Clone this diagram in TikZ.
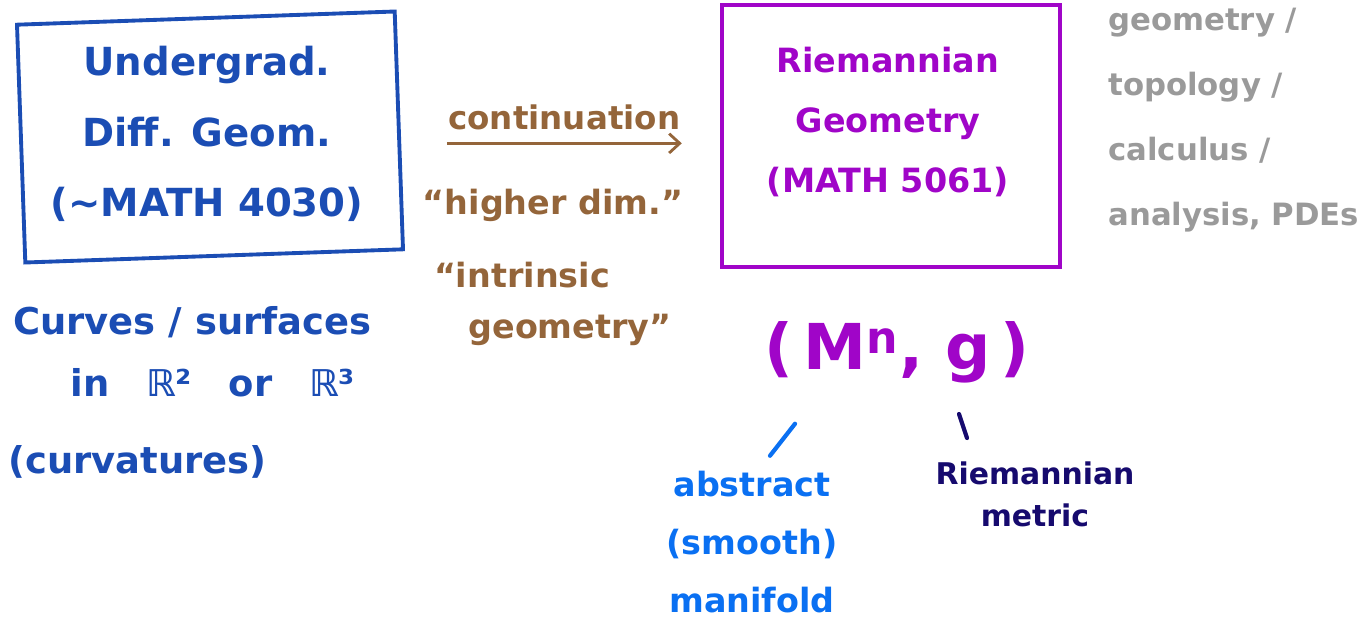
\documentclass[tikz,border=0pt]{standalone}
\usepackage{fontspec}
\setmainfont{DejaVu Sans}
\usetikzlibrary{positioning, arrows.meta}

\newcommand\handsize[2]{\fontsize{#1}{#2}\selectfont\bfseries}

\begin{document}
\begin{tikzpicture}[
    x=0.02cm, y=-0.02cm,
    % Estilos
    course box/.style={
        rectangle, draw=#1, line width=2.2pt, inner sep=0pt
    },
    scribble/.style={
        text=#1, align=center, inner sep=0pt
    },
    link/.style={
        -{Straight Barb[length=6pt, width=11pt]}, line width=1.6pt, color=#1
    },
    tick/.style={
        line width=2.4pt, line cap=round, color=#1
    }
]

% ── colores ──
\definecolor{ugblue}{HTML}{1B4DB4}
\definecolor{contbrown}{HTML}{94653A}
\definecolor{riepurple}{HTML}{A005C8}
\definecolor{notegray}{HTML}{9A9A9A}
\definecolor{absblue}{HTML}{0A70F2}
\definecolor{metricnavy}{HTML}{160A6E}

\useasboundingbox (0,0) rectangle (1367,626);

% ════════════════════════════════════════
% CURSOS (cajas)
% ════════════════════════════════════════
\node[course box=ugblue, minimum width=7.56cm, minimum height=4.76cm, rotate=2] (ug) at (210,137) {};
\node[scribble=ugblue, font=\handsize{22}{40}] (ugtext) at (207,134)
    {Undergrad.\\Diff. Geom.\\(∼MATH 4030)};

\node[course box=riepurple, minimum width=6.76cm, minimum height=5.24cm] (rie) at (891,136) {};
\node[scribble=riepurple, font=\handsize{19}{34}] (rietext) at (888,122)
    {Riemannian\\Geometry\\(MATH 5061)};

% ════════════════════════════════════════
% FLECHA ug -> rie
% ════════════════════════════════════════
\draw[link=contbrown] ([shift={(46,13)}]ug.east) -- ++(235,0)
    node[midway, above=7pt, scribble=contbrown, font=\handsize{18.5}{24}] (cont) {continuation};
\node[scribble=contbrown, font=\handsize{19}{24}] (hdim)  at (553,205) {“higher dim.”};
\node[scribble=contbrown, font=\handsize{19}{24}] (intr)  at (522,275) {“intrinsic};
\node[scribble=contbrown, font=\handsize{19}{24}] (geomq) at (570,330) {geometry”};

% ════════════════════════════════════════
% NOTAS
% ════════════════════════════════════════
\node[scribble=notegray, align=left, anchor=west, font=\handsize{17.5}{37}] (fields) at (1108,120)
    {geometry /\\topology /\\calculus /\\analysis, PDEs};

\node[scribble=ugblue, anchor=west, font=\handsize{21}{24}] (curves) at (13,322) {Curves / surfaces};
\node[scribble=ugblue, anchor=west, font=\handsize{21}{24}] (rspace) at (70,383) {in\quad ℝ²\quad or\quad ℝ³};
\node[scribble=ugblue, anchor=west, font=\handsize{21}{24}] (curv)   at (8,462)  {(curvatures)};

% ════════════════════════════════════════
% (M^n, g)
% ════════════════════════════════════════
\node[scribble=riepurple, font=\handsize{36}{44}] (pair) at (897,352) {(\,M\textsuperscript{n},\ g\,)};

\node[scribble=absblue, font=\handsize{19}{33}] (abs) at (752,542) {abstract\\(smooth)\\manifold};
\node[scribble=metricnavy, font=\handsize{17}{24}] (metric) at (1035,494) {Riemannian\\metric};

\draw[tick=absblue]    ([shift={(18,-15)}]abs.north)    -- ++(25,-32);
\draw[tick=metricnavy] ([shift={(-68,-23)}]metric.north) -- ++(-8,-24);

\end{tikzpicture}
\end{document}
